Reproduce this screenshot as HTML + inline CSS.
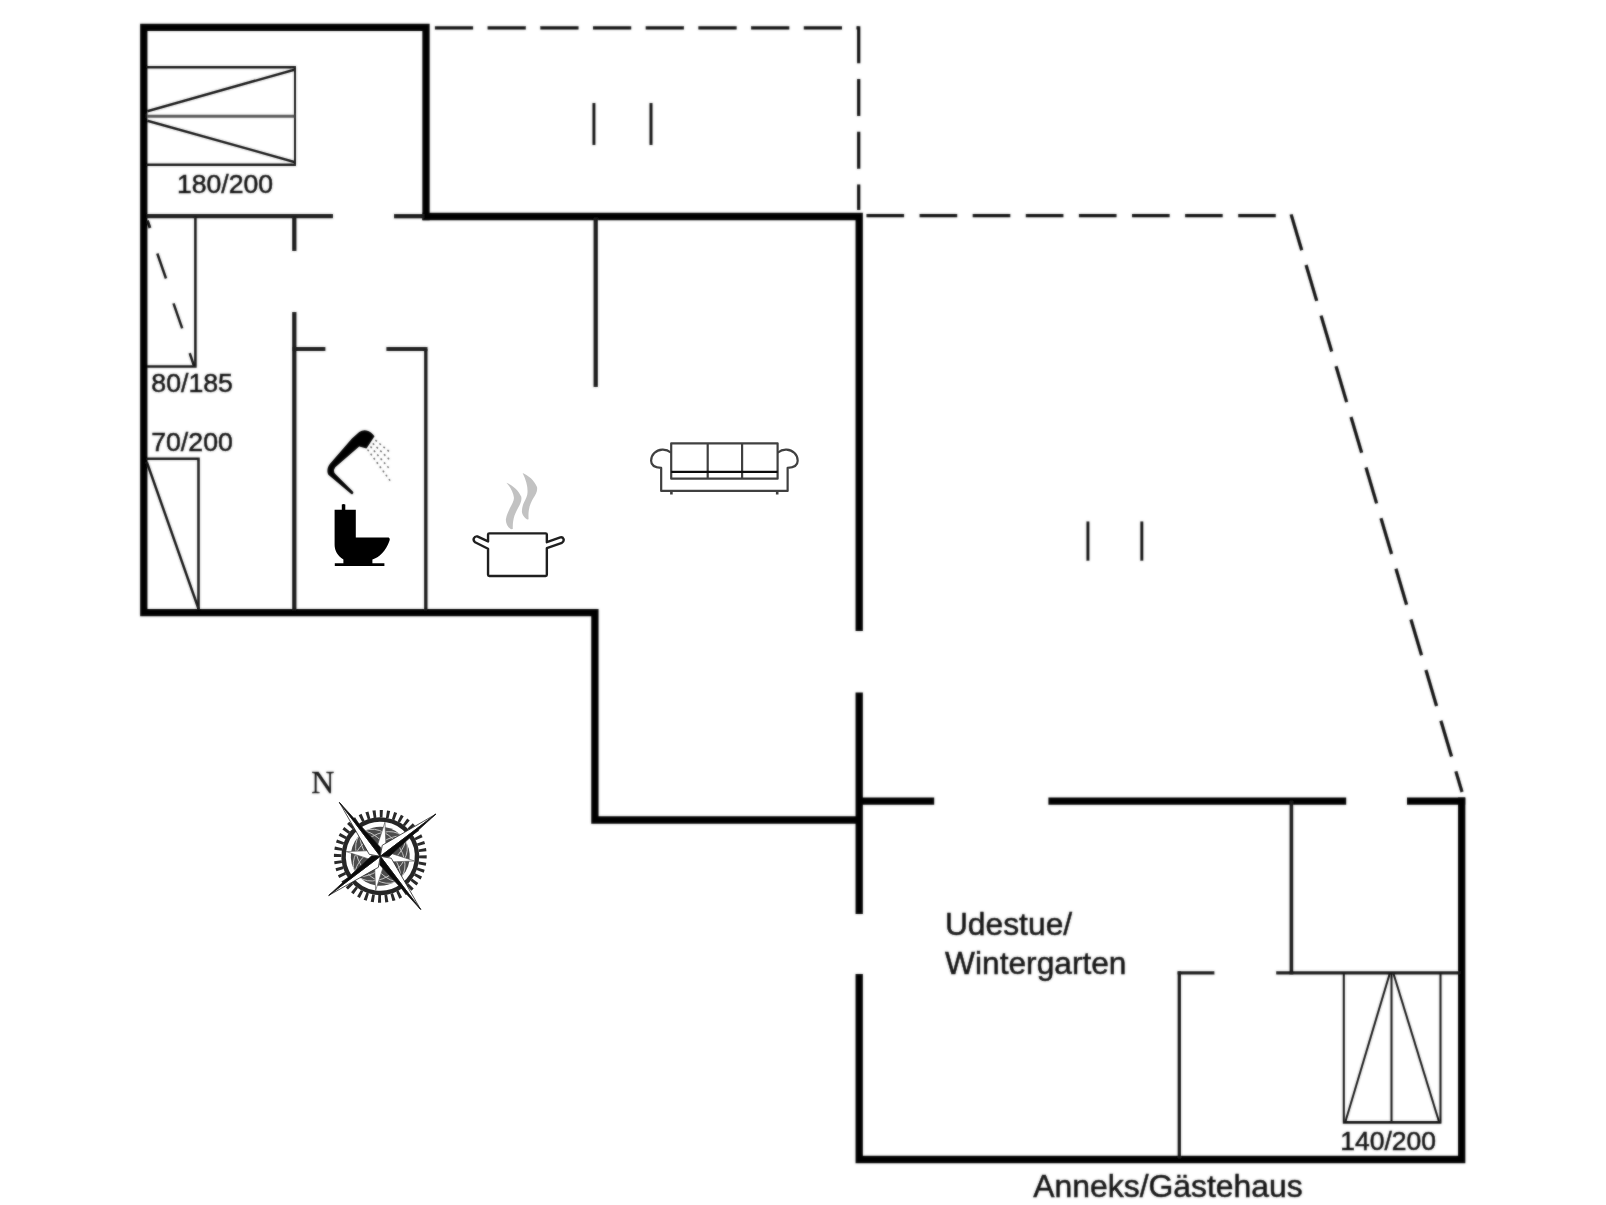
<!DOCTYPE html>
<html lang="de">
<head>
<meta charset="utf-8">
<title>Grundriss</title>
<style>
  html, body { margin: 0; padding: 0; background: #ffffff; }
  body { width: 1606px; height: 1205px; overflow: hidden; }
  svg { display: block; }
  .lbl { font-family: "Liberation Sans", Arial, sans-serif; fill: #151515; stroke: #151515; stroke-width: 0.55px; stroke-linejoin: round; }
  .ser { font-family: "Liberation Serif", "Times New Roman", serif; fill: #151515; stroke: #151515; stroke-width: 0.3px; }
</style>
</head>
<body>
<svg width="1606" height="1205" viewBox="0 0 1606 1205">
  <defs><filter id="soft" x="0" y="0" width="1606" height="1205" filterUnits="userSpaceOnUse"><feGaussianBlur in="SourceGraphic" stdDeviation="0.8" result="b"/><feComposite in="b" in2="SourceGraphic" operator="arithmetic" k1="0" k2="0.55" k3="0.45" k4="0"/></filter></defs>
  <rect x="0" y="0" width="1606" height="1205" fill="#ffffff"/>
  <g filter="url(#soft)">

  <!-- ===== dashed outlines (terraces) ===== -->
  <g id="dashed" fill="none" stroke="#0a0a0a" stroke-width="3.2">
    <path d="M434.9 27.9 H858.7" stroke-dasharray="38.2 14.5"/>
    <path d="M858.7 26.3 V210" stroke-dasharray="37 15.7"/>
    <path d="M866.5 215.6 H1280" stroke-dasharray="37.6 15.5"/>
    <path d="M1291.1 214.4 L1462 792" stroke-dasharray="37.4 15.4"/>
  </g>

  <!-- ===== thick outer walls ===== -->
  <g id="thick" fill="none" stroke="#000" stroke-width="7.3" stroke-linejoin="miter" stroke-linecap="butt">
    <path d="M426 220.2 V27.3 H143.8 V612.6 H594.9 V820 H859.2"/>
    <path d="M422.4 216.5 H859.2 V631"/>
    <path d="M859.2 692.5 V914"/>
    <path d="M859.2 974 V1159.5 H1461.7 V797.5"/>
    <path d="M859.2 801.2 H934.2"/>
    <path d="M1048.4 801.2 H1346.2"/>
    <path d="M1407 801.2 H1465.2"/>
  </g>

  <!-- ===== thin inner walls ===== -->
  <g id="thin" fill="none" stroke="#1a1a1a" stroke-width="4.3" stroke-linecap="butt">
    <path d="M147 216.2 H333"/>
    <path d="M394 216.2 H424"/>
    <path d="M294.3 216 V251"/>
    <path d="M294.3 312 V610"/>
    <path d="M292.2 349 H325.4" stroke-width="3.8"/>
    <path d="M386.4 349 H427.5" stroke-width="3.8"/>
    <path d="M425.8 349 V610" stroke-width="3.4"/>
    <path d="M595.7 218 V387"/>
    <path d="M1291.4 801 V974.4" stroke-width="3.6"/>
    <path d="M1177.6 972.9 H1214.4" stroke-width="3.2"/>
    <path d="M1276.2 972.9 H1460" stroke-width="3.2"/>
    <path d="M1179.3 971.3 V1158" stroke-width="3.3"/>
  </g>

  <!-- ===== small marks in terraces ===== -->
  <g id="marks" fill="none" stroke="#0d0d0d" stroke-width="2.9">
    <path d="M593.9 103 V145"/>
    <path d="M651 103 V145"/>
    <path d="M1087.9 521.5 V560.7"/>
    <path d="M1141.8 521.5 V560.7"/>
  </g>

  <!-- ===== beds ===== -->
  <g id="beds" fill="none" stroke="#161616" stroke-width="2.55">
    <!-- 180/200 -->
    <path d="M147 67.2 H296 M147 164.8 H296"/>
    <path d="M295 67.2 V164.8" stroke-width="2"/>
    <path d="M147 116.3 H294.5" stroke="#555" stroke-width="3"/>
    <path d="M147.3 111.3 L294.3 69.7"/>
    <path d="M147.3 120.8 L294.3 161.9"/>
    <!-- 80/185 -->
    <path d="M195.4 218 V366.5 H147"/>
    <path d="M147.4 220.5 L150 228" stroke-width="3"/>
    <path d="M157.3 253.5 L166 278.5"/>
    <path d="M173.5 303.4 L182.2 328.3"/>
    <path d="M189.7 353.2 L194.2 366.5"/>
    <!-- 70/200 -->
    <path d="M147 458.7 H198.5 V610"/>
    <path d="M146.8 462 L198.6 609"/>
    <!-- 140/200 -->
    <g stroke-width="2.1" stroke="#141414">
      <path d="M1343.8 974 V1122.4 H1440.5 V974"/>
      <path d="M1343 1122.3 H1441" stroke-width="2.4"/>
      <path d="M1391.5 974 V1122"/>
      <path d="M1345.6 1121 L1389.6 974"/>
      <path d="M1393.6 974 L1438.8 1121"/>
    </g>
  </g>

  <!-- ===== labels ===== -->
  <g id="labels" class="lbl">
    <text x="177" y="193.4" font-size="26.6">180/200</text>
    <text x="151.3" y="391.8" font-size="26.7">80/185</text>
    <text x="151.2" y="451" font-size="26.7">70/200</text>
    <text x="1340.2" y="1149.9" font-size="26.5">140/200</text>
    <text x="944.9" y="935" font-size="31.8">Udestue/</text>
    <text x="945.1" y="974" font-size="31.7">Wintergarten</text>
    <text x="1033.3" y="1197.4" font-size="31.9">Anneks/Gästehaus</text>
  </g>
  <text class="ser" x="311.2" y="793.2" font-size="32">N</text>

  <!-- ===== shower ===== -->
  <g id="shower">
    <path fill="#000" d="M351.2 494.1 L328.6 475.1 C326.8 472.6 326.9 467.6 330 463.8 L351.9 438.6 L359.2 432 Q362.5 429.6 366.5 430.4 Q371.4 431.6 374.5 436.3 L366.5 448.6 L359.2 446.6 L335.3 467.2 Q333.2 469.8 334.3 472.5 Q334.9 473.6 335.9 474.5 L352.9 491.6 Q354.1 493 352.7 493.9 Q351.9 494.4 351.2 494.1 Z"/>
    <g fill="none" stroke="#5a5a5a" stroke-width="1.5" stroke-dasharray="1.9 3.3">
      <path d="M367.6 449.6 L390.4 481.1"/>
      <path d="M370.5 446.6 L389.9 469.3"/>
      <path d="M372.8 443.4 L389.9 460"/>
      <path d="M375.4 440.2 L390.6 452.7"/>
    </g>
  </g>
  </g>

  <!-- ===== toilet ===== -->
  <g id="toilet">
    <path fill="#000" d="M334.6 509.8 H341.8 V504.6 Q343.5 503.6 345.3 504.6 V509.8 H355.8 V537.4 H388.6 Q390.4 538.4 389.4 541 C386 551 379 557.4 372.4 559.6 V563.3 H384.4 V565.9 H334.8 V563.3 H343.4 V559.6 C337.6 556 334.6 550.4 334.6 544.8 Z"/>
  </g>

  <!-- ===== cooking pot ===== -->
  <g id="pot">
    <path fill="#c2c2c2" d="M506.4 482.7 C512 485 518.5 490 521.3 496.8 C522 501 520 504.5 518.3 507.6 C515.5 512.6 512.5 518 512.8 529 L511 529.3 C508 527.6 505.6 523.6 505.9 519.2 C506.6 514.6 508.6 511.4 509.7 508.5 C512.2 503.6 514.2 500.4 513.9 497.6 C513.6 493.2 510.6 487.2 506.4 482.7 Z"/>
    <path fill="#c2c2c2" d="M522.6 472.9 C528 475 534.5 480.4 537 487 C537.8 491 535.6 494.6 533.6 497.8 C530.6 502.8 527.8 508.4 528.6 519.3 L527.2 519.5 C524.4 518 522 514.6 521.9 511.6 C522 507.4 522.8 505.6 523.7 503 C526 498.4 527.6 495.4 527.5 492.2 C527.8 487 526.4 480.4 522.6 472.9 Z"/>
    <path fill="#fff" stroke="#1f1f1f" stroke-width="2.4" stroke-linejoin="round" d="M488.05 541.4 V534.6 Q488.05 533.4 489.3 533.4 H545.6 Q546.84 533.4 546.84 534.6 V542.2 L560.3 537.45 Q562.6 536.9 563.5 538.9 Q564.3 541.3 561.9 542.85 L546.84 548.2 V574.8 Q546.84 576 545.6 576 H489.3 Q488.05 576 488.05 574.8 V548.7 L475.1 542.2 Q472.9 540.6 473.9 538.3 Q475 536 477.3 536.4 Z"/>
  </g>

  <!-- ===== sofa ===== -->
  <g id="sofa" fill="none" stroke="#404040" stroke-width="2.2" stroke-linejoin="round">
    <path d="M671.23 452.76 C668.58 450.64 665.4 449.37 662.23 449.58 C655.88 449.9 651.11 454.88 651.11 460.7 C651.11 464.93 654.82 467.58 661.17 467.9 V490.9 H787.63 V467.9 C793.98 467.58 797.69 464.93 797.69 460.7 C797.69 454.88 792.92 449.9 786.57 449.58 C783.4 449.37 780.22 450.64 777.57 452.76"/>
    <rect x="671.2" y="443.3" width="106.4" height="35.4"/>
    <path d="M707.7 443.3 V478.7 M742.1 443.3 V478.7"/>
    <path d="M671.2 471.8 H777.6" stroke="#0c0c0c" stroke-width="2.3"/>
    <path d="M671.4 491 V494.6 M777.2 491 V494.6" stroke-width="2.6"/>
  </g>

  <!-- ===== compass rose ===== -->
  <g id="compass" transform="translate(380.3 856.3) rotate(-37.2)">
    <circle r="42.6" fill="none" stroke="#2a2a2a" stroke-width="7.6" stroke-dasharray="2.9 3.792"/>
    <circle r="36.7" fill="none" stroke="#262626" stroke-width="4.4"/>
    <circle r="29.5" fill="#4c4c4c"/>
    <g stroke="#d9d9d9" stroke-width="0.9" fill="none" opacity="0.85">
      <ellipse rx="30" ry="11"/>
      <ellipse rx="11" ry="30"/>
      <ellipse rx="30" ry="21"/>
      <ellipse rx="21" ry="30"/>
    </g>
    <!-- intercardinal points -->
    <g fill="#fff" stroke="#555" stroke-width="0.6">
      <path d="M0 0 L-3 -9.5 L-24.4 -24.4 L-9.5 -3 Z"/>
      <path d="M0 0 L3 -9.5 L24.4 -24.4 L9.5 -3 Z"/>
      <path d="M0 0 L-3 9.5 L-24.4 24.4 L-9.5 3 Z"/>
      <path d="M0 0 L3 9.5 L24.4 24.4 L9.5 3 Z"/>
    </g>
    <!-- cardinal points -->
    <g stroke="#1a1a1a" stroke-width="0.7" stroke-linejoin="miter">
      <path d="M0 -67.6 L-7.6 -8.2 L0 0 Z" fill="#fff"/>
      <path d="M0 -67.6 L5.6 -6.6 L0 0 Z" fill="#0a0a0a"/>
      <path d="M69.9 0 L8.2 -7.6 L0 0 Z" fill="#fff"/>
      <path d="M69.9 0 L6.6 5.6 L0 0 Z" fill="#0a0a0a"/>
      <path d="M0 66.7 L7.6 8.2 L0 0 Z" fill="#fff"/>
      <path d="M0 66.7 L-5.6 6.6 L0 0 Z" fill="#0a0a0a"/>
      <path d="M-64.7 0 L-8.2 7.6 L0 0 Z" fill="#fff"/>
      <path d="M-64.7 0 L-6.6 -5.6 L0 0 Z" fill="#0a0a0a"/>
    </g>
  </g>
  </g>
</svg>
</body>
</html>
